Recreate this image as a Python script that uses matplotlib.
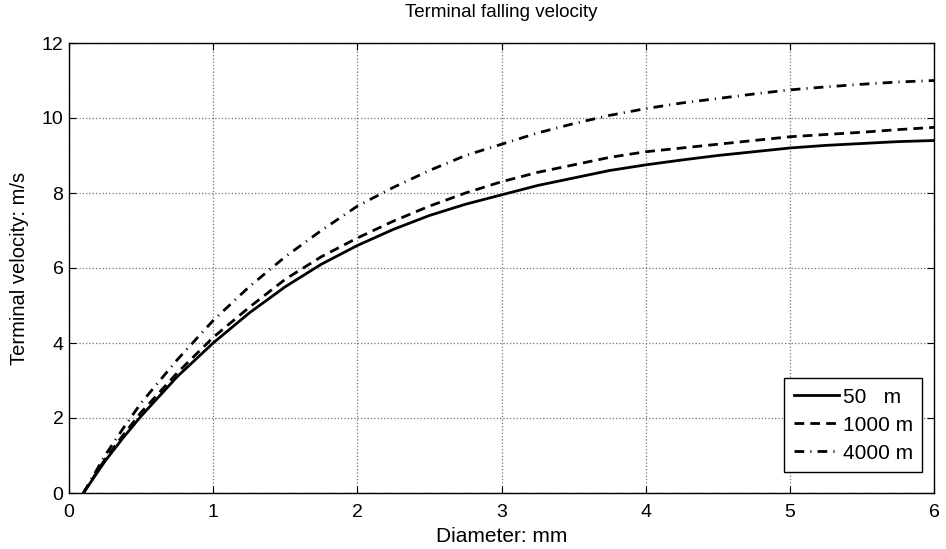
import matplotlib
matplotlib.use("Agg")
import matplotlib.pyplot as plt

plt.rcParams['font.family'] = ['Liberation Sans', 'DejaVu Sans']

# diameter in mm, velocities in m/s
diameter = [0.1, 0.25, 0.375, 0.5, 0.75, 1.0, 1.25, 1.5, 1.75, 2.0, 2.25, 2.5, 2.75, 3.0,
            3.25, 3.5, 3.75, 4.0, 4.25, 4.5, 4.75, 5.0, 5.25, 5.5, 5.75, 6.0]
v_50 = [0.0, 0.85, 1.47, 2.05, 3.1, 4.0, 4.8, 5.5, 6.1, 6.6, 7.03, 7.4, 7.7, 7.95,
        8.2, 8.4, 8.6, 8.75, 8.88, 9.0, 9.1, 9.2, 9.27, 9.32, 9.37, 9.4]
v_1000 = [0.0, 0.9, 1.54, 2.15, 3.2, 4.15, 4.95, 5.7, 6.3, 6.8, 7.25, 7.65, 8.0, 8.3,
          8.55, 8.75, 8.95, 9.1, 9.2, 9.3, 9.4, 9.5, 9.56, 9.62, 9.69, 9.75]
v_4000 = [0.0, 1.0, 1.72, 2.4, 3.55, 4.6, 5.5, 6.3, 7.0, 7.65, 8.15, 8.6, 9.0, 9.3,
          9.6, 9.85, 10.07, 10.25, 10.4, 10.52, 10.64, 10.75, 10.83, 10.9, 10.96, 11.0]
labels = ["50   m", "1000 m", "4000 m"]

W, H = 946, 549
fig = plt.figure(figsize=(W / 100, H / 100), dpi=100)
# axes box in pixels: left 69, right 934, top 43, bottom 493
ax = fig.add_axes([69 / W, 1 - 493 / H, 865 / W, 450 / H])

ax.plot(diameter, v_50, 'k-', lw=2, label=labels[0])
ax.plot(diameter, v_1000, 'k--', lw=2, label=labels[1], dashes=(3.5, 2.2))
ax.plot(diameter, v_4000, 'k-.', lw=2, label=labels[2], dashes=(3.5, 2.2, 0.4, 2.2))

ax.set_xlim(0, 6)
ax.set_ylim(0, 12)
ax.set_xticks(range(0, 7))
ax.set_yticks(range(0, 13, 2))
ax.grid(True, linestyle=':', color='0.45', lw=0.9)
ax.tick_params(direction='in', top=True, right=True, labelsize=14, length=5)
ax.tick_params(axis='x', pad=8)
ax.tick_params(axis='y', pad=4)
for s in ax.spines.values():
    s.set_linewidth(1)

ax.set_title("Terminal falling velocity", fontsize=13.5, pad=19)
ax.set_xlabel("Diameter: mm", fontsize=15, labelpad=4)
ax.set_ylabel("Terminal velocity: m/s", fontsize=14.5, labelpad=9)

leg = ax.legend(loc='lower right', fontsize=15, fancybox=False, edgecolor='k',
                framealpha=1, handlelength=2.2, handletextpad=0.15,
                labelspacing=0.43, borderpad=0.45, borderaxespad=0,
                bbox_to_anchor=(922 / W, 1 - 472 / H), bbox_transform=fig.transFigure)
leg.get_frame().set_linewidth(1)

fig.savefig("out.png", dpi=100)
